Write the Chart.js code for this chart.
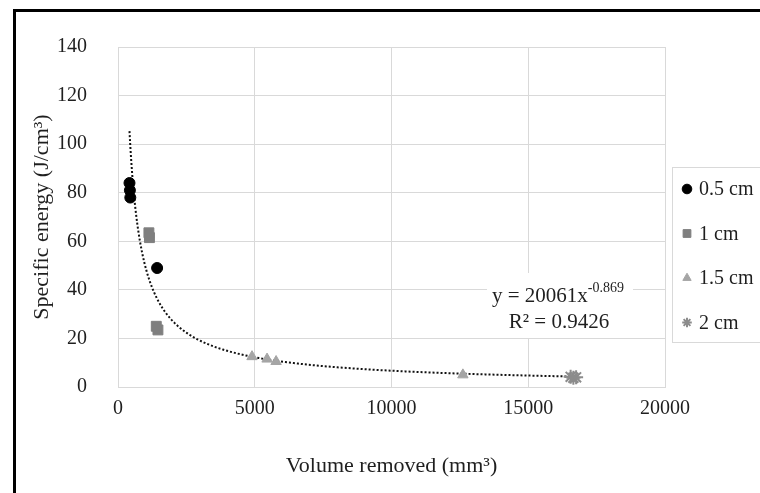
<!DOCTYPE html>
<html>
<head>
<meta charset="utf-8">
<script src="https://cdn.jsdelivr.net/npm/chart.js@4"></script>
<style>
  html, body { margin: 0; padding: 0; background: #fff; }
  #wrap { position: relative; width: 760px; height: 493px; overflow: hidden; }
  #frame { position: absolute; left: 13px; top: 9px; width: 900px; height: 600px;
           border-left: 3px solid #000; border-top: 3px solid #000; }
  #c { position: absolute; left: 0; top: 0; }
</style>
</head>
<body>
<div id="wrap">
  <div id="frame"></div>
  <canvas id="c" width="800" height="493"></canvas>
</div>
<script>
// measured points, one pair of arrays per tool diameter
const seriesNames = ['0.5 cm', '1 cm', '1.5 cm', '2 cm'];
const vol05 = [420, 435, 450, 1430];
const energy05 = [84, 81, 78, 49];
const vol10 = [1130, 1150, 1400, 1460];
const energy10 = [63.5, 61.5, 25, 23.5];
const vol15 = [4900, 5450, 5780, 12610];
const energy15 = [12.5, 11.5, 10.5, 5];
const vol20 = [16550, 16650, 16750];
const energy20 = [4.2, 3.8, 4.0];

// power trendline as printed on the chart: y = a * x^b
const trendA = 20061;
const trendB = -0.869;
const trendR2 = 0.9426;
const trendFrom = 420;
const trendTo = 16750;

const xMax = 20000, xStep = 5000;
const yMax = 140, yStep = 20;

const FONT = "'Liberation Serif', 'Times New Roman', serif";
const GRID = '#d9d9d9';
const TEXT = '#1f1f1f';

function pairs(xs, ys) {
  return xs.map((x, i) => ({ x: x, y: ys[i] }));
}

// points along the fitted curve
const trendPts = [];
for (let i = 0; i <= 150; i++) {
  const x = trendFrom * Math.pow(trendTo / trendFrom, i / 150);
  trendPts.push({ x: x, y: trendA * Math.pow(x, trendB) });
}

// legend box and trendline label
const overlay = {
  id: 'overlay',
  afterDraw(chart) {
    const ctx = chart.ctx;
    ctx.save();
    ctx.strokeStyle = GRID;
    ctx.lineWidth = 1;
    ctx.strokeRect(672.5, 167.5, 200, 175);

    ctx.font = '20px ' + FONT;
    ctx.textBaseline = 'middle';
    ctx.textAlign = 'left';
    chart.data.datasets.slice(0, 4).forEach((ds, i) => {
      const y = 189 + i * 44.5;
      ctx.fillStyle = ds.backgroundColor;
      ctx.strokeStyle = ds.borderColor;
      ctx.lineWidth = ds.borderWidth;
      Chart.helpers.drawPoint(ctx, {
        pointStyle: ds.pointStyle,
        radius: ds.pointStyle === 'rect' ? 5.5 : 4.8,
        borderWidth: ds.borderWidth
      }, 687, y);
      ctx.fillStyle = TEXT;
      ctx.fillText(ds.label, 699, y + 1);
    });

    // label for the trendline, on a white patch over the grid
    ctx.fillStyle = '#fff';
    ctx.fillRect(487, 273, 146, 65);
    ctx.fillStyle = TEXT;
    ctx.textBaseline = 'alphabetic';
    ctx.font = '21px ' + FONT;
    const main = 'y = ' + trendA + 'x';
    ctx.fillText(main, 492, 302);
    const w = ctx.measureText(main).width;
    ctx.font = '14px ' + FONT;
    ctx.fillText(String(trendB), 492 + w, 292);
    ctx.font = '21px ' + FONT;
    ctx.textAlign = 'center';
    ctx.fillText('R\u00b2 = ' + trendR2, 559, 328);
    ctx.restore();
  }
};

new Chart(document.getElementById('c'), {
  type: 'scatter',
  data: {
    datasets: [
      { label: seriesNames[0], data: pairs(vol05, energy05), pointStyle: 'circle',
        pointRadius: 5.5, backgroundColor: '#000', borderColor: '#000', borderWidth: 1 },
      { label: seriesNames[1], data: pairs(vol10, energy10), pointStyle: 'rect',
        pointRadius: 7, backgroundColor: '#7f7f7f', borderColor: '#7f7f7f', borderWidth: 1 },
      { label: seriesNames[2], data: pairs(vol15, energy15), pointStyle: 'triangle',
        pointRadius: 6, backgroundColor: '#a5a5a5', borderColor: '#a5a5a5', borderWidth: 1 },
      { label: seriesNames[3], data: pairs(vol20, energy20), pointStyle: 'star',
        pointRadius: 7, backgroundColor: '#8c8c8c', borderColor: '#8c8c8c', borderWidth: 2 },
      { label: 'trend', data: trendPts, showLine: true, pointRadius: 0,
        borderColor: '#111', borderWidth: 2, borderDash: [2, 2], fill: false }
    ]
  },
  options: {
    responsive: false,
    animation: false,
    layout: { padding: { left: 0, top: 47, right: 135, bottom: 0 } },
    plugins: { legend: { display: false }, tooltip: { enabled: false } },
    scales: {
      x: {
        type: 'linear', min: 0, max: xMax,
        afterFit(s) { s.height = 106; },
        ticks: { stepSize: xStep, padding: 10, color: TEXT, font: { family: FONT, size: 20 },
                 callback: v => String(v) },
        grid: { color: GRID, drawTicks: false },
        border: { color: GRID },
        title: { display: true, text: 'Volume removed (mm\u00b3)', color: TEXT,
                 font: { family: FONT, size: 22 }, padding: { bottom: 14 } }
      },
      y: {
        min: 0, max: yMax,
        afterFit(s) { s.width = 118; },
        ticks: { stepSize: yStep, padding: 31, color: TEXT, font: { family: FONT, size: 20 },
                 callback: v => String(v) },
        grid: { color: GRID, drawTicks: false },
        border: { color: GRID },
        title: { display: true, text: 'Specific energy (J/cm\u00b3)', color: TEXT,
                 font: { family: FONT, size: 22 }, padding: { top: 29 } }
      }
    }
  },
  plugins: [overlay]
});
</script>
</body>
</html>
